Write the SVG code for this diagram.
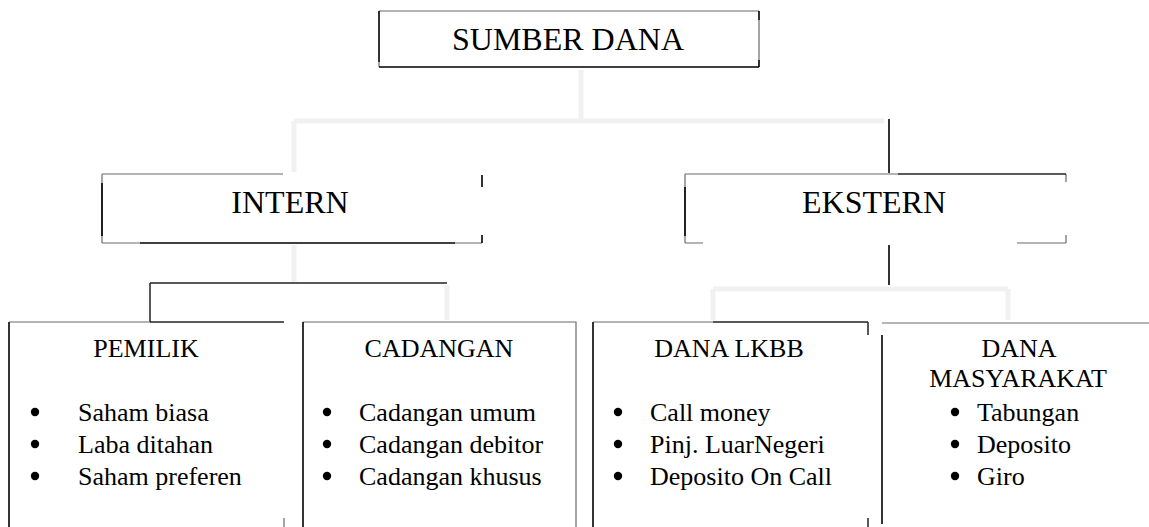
<svg xmlns="http://www.w3.org/2000/svg" width="1149" height="527" viewBox="0 0 1149 527">
<style>
.bg{fill:#ffffff}
.g{stroke:#6a6a6a;stroke-width:1.2;fill:none}
.d{stroke:#222;stroke-width:1.5;fill:none}
.k{stroke:#000;stroke-width:1.6;fill:none}
.f{stroke:#f1f1f1;stroke-width:5;fill:none}
.t{font-family:"Liberation Serif","Times New Roman",serif;fill:#000}
.big{font-size:32px}
.sm{font-size:26px}
.bul{fill:#000}
</style>
<rect class="bg" x="0" y="0" width="1149" height="527"/>
<g id="connectors">
  <path class="f" d="M581,70 V121 M294,121 H884 M294,121 V172 M294,245 V283 M447,285 V320 M713,289 H1008 M713,289 V320 M1008,289 V320"/>
  <path class="k" d="M889,119 V173 M889,245 V285"/>
  <path class="d" d="M150,283 H447 M150,283 V322"/>
</g>
<g id="sumber-dana">
  <path class="g" d="M379,11 H759 M379,62 V67 M759,20 V60"/>
  <path class="k" d="M379,11 V62 M379,67 H759 M759,11 V20 M759,60 V67"/>
  <text class="t big" x="568" y="50" text-anchor="middle">SUMBER DANA</text>
</g>
<g id="intern">
  <path class="g" d="M102,174 H283 M102,174 V243 M102,243 H140 M455,243 H482"/>
  <path class="k" d="M102,183 V236 M140,243 H455 M482,175 V187 M482,235 V243"/>
  <text class="t big" x="290" y="213" text-anchor="middle">INTERN</text>
</g>
<g id="ekstern">
  <path class="g" d="M685,174 H898 M685,174 V243 M685,243 H703 M1017,243 H1066 M1066,174 V182 M1066,235 V243"/>
  <path class="d" d="M898,174 H1066"/>
  <path class="k" d="M685,187 V236"/>
  <text class="t big" x="874" y="213" text-anchor="middle">EKSTERN</text>
</g>
<g id="pemilik">
  <path class="g" d="M9,322 H150 M284,518 V527"/>
  <path class="d" d="M150,322 H284"/>
  <path class="k" d="M9,322 V527"/>
  <text class="t sm" x="146" y="357" text-anchor="middle">PEMILIK</text>
  <circle class="bul" cx="35" cy="412" r="4.2"/>
  <circle class="bul" cx="35" cy="444" r="4.2"/>
  <circle class="bul" cx="35" cy="476" r="4.2"/>
  <text class="t sm" x="78" y="421">Saham biasa</text>
  <text class="t sm" x="78" y="453">Laba ditahan</text>
  <text class="t sm" x="78" y="485">Saham preferen</text>
</g>
<g id="cadangan">
  <path class="g" d="M303,322 H576 V527"/>
  <path class="k" d="M303,322 V527"/>
  <text class="t sm" x="439" y="357" text-anchor="middle">CADANGAN</text>
  <circle class="bul" cx="327" cy="412" r="4.2"/>
  <circle class="bul" cx="327" cy="444" r="4.2"/>
  <circle class="bul" cx="327" cy="476" r="4.2"/>
  <text class="t sm" x="359" y="421">Cadangan umum</text>
  <text class="t sm" x="359" y="453">Cadangan debitor</text>
  <text class="t sm" x="359" y="485">Cadangan khusus</text>
</g>
<g id="dana-lkbb">
  <path class="g" d="M593,322 H713"/>
  <path class="d" d="M713,322 H868 M868,322 V335 M868,518 V527"/>
  <path class="k" d="M593,322 V527"/>
  <text class="t sm" x="729" y="357" text-anchor="middle">DANA LKBB</text>
  <circle class="bul" cx="618" cy="412" r="4.2"/>
  <circle class="bul" cx="618" cy="444" r="4.2"/>
  <circle class="bul" cx="618" cy="476" r="4.2"/>
  <text class="t sm" x="650" y="421">Call money</text>
  <text class="t sm" x="650" y="453">Pinj. LuarNegeri</text>
  <text class="t sm" x="650" y="485">Deposito On Call</text>
</g>
<g id="dana-masyarakat">
  <path class="g" d="M882,323 H1149"/>
  <path class="k" d="M882,335 V524"/>
  <text class="t sm" x="1019" y="357" text-anchor="middle">DANA</text>
  <text class="t sm" x="1018" y="387" text-anchor="middle">MASYARAKAT</text>
  <circle class="bul" cx="955" cy="412" r="4.2"/>
  <circle class="bul" cx="955" cy="444" r="4.2"/>
  <circle class="bul" cx="955" cy="476" r="4.2"/>
  <text class="t sm" x="977" y="421">Tabungan</text>
  <text class="t sm" x="977" y="453">Deposito</text>
  <text class="t sm" x="977" y="485">Giro</text>
</g>
</svg>
